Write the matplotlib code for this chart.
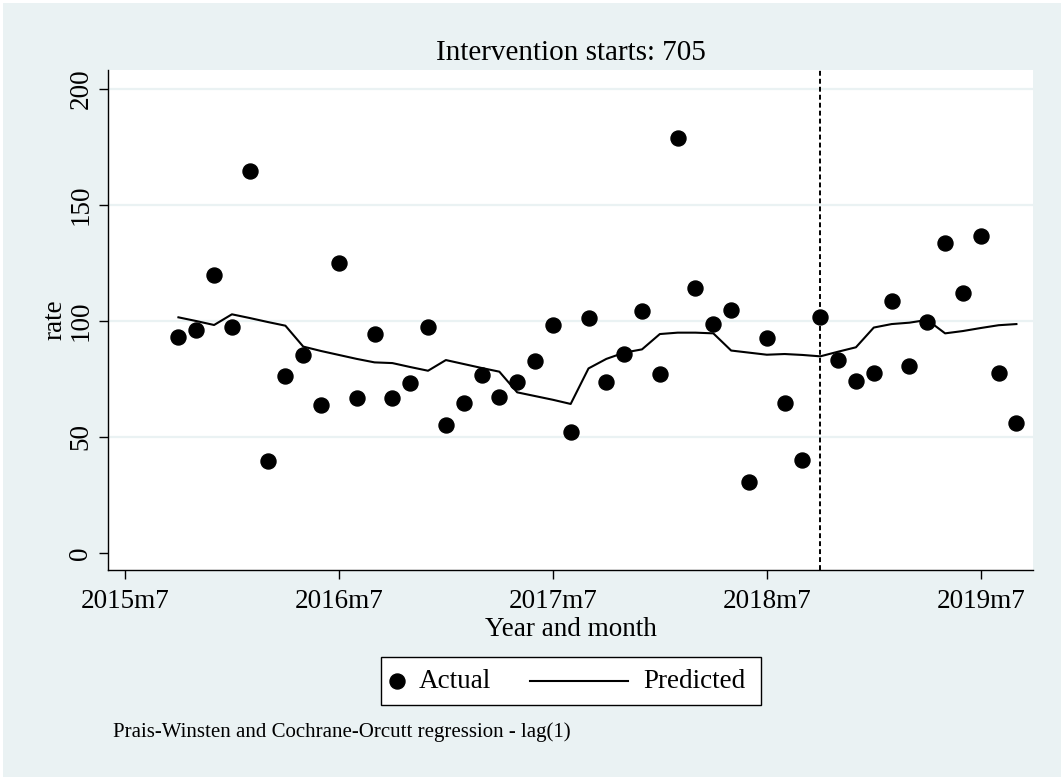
import matplotlib
matplotlib.use("Agg")
import matplotlib.pyplot as plt
from matplotlib.patches import Rectangle
from matplotlib.lines import Line2D

# ---- data ----
months = list(range(669, 717))  # Stata monthly dates (2015m10 .. 2019m9)
actual = [92.9, 96.1, 119.9, 97.4, 164.3, 39.6, 76.1, 85.3, 63.9, 124.8,
          66.9, 94.3, 66.9, 73.1, 97.4, 55.1, 64.5, 76.7, 67.3, 73.5,
          82.7, 98.1, 52.0, 101.1, 73.5, 85.9, 104.2, 77.1, 178.8, 114.0,
          98.6, 104.8, 30.7, 92.6, 64.8, 40.1, 101.8, 83.1, 74.1, 77.7,
          108.7, 80.7, 99.4, 133.4, 111.9, 136.5, 77.7, 55.9]
predicted = [101.5, 99.9, 98.2, 102.8, 101.2, 99.5, 97.9, 88.9, 87.0, 85.3,
             83.6, 82.1, 81.8, 80.1, 78.5, 83.1, 81.4, 79.7, 78.1, 69.2,
             67.6, 66.0, 64.2, 79.5, 83.6, 86.3, 87.7, 94.3, 94.9, 94.9,
             94.6, 87.2, 86.3, 85.4, 85.7, 85.3, 84.7, 86.7, 88.6, 97.1,
             98.6, 99.2, 100.4, 94.6, 95.6, 96.9, 98.1, 98.6]
intervention = 705
xtick_pos = [666, 678, 690, 702, 714]
xtick_labels = ["2015m7", "2016m7", "2017m7", "2018m7", "2019m7"]
ytick_pos = [0, 50, 100, 150, 200]

# ---- style ----
plt.rcParams['font.family'] = ['Liberation Serif', 'DejaVu Serif']
BG = '#EAF2F3'
W, H = 1064, 780
FS = 19.5

fig = plt.figure(figsize=(W / 100, H / 100), dpi=100, facecolor='white')
fig.patches.append(Rectangle((3 / W, 3 / H), (W - 6) / W, (H - 6) / H,
                             transform=fig.transFigure, facecolor=BG,
                             edgecolor='none', zorder=-10))

ax = fig.add_axes([108 / W, (H - 570) / H, (1033 - 108) / W, (570 - 70) / H])
ax.set_facecolor('white')
for s in ['top', 'right']:
    ax.spines[s].set_visible(False)
for s in ['left', 'bottom']:
    ax.spines[s].set_color('black')
    ax.spines[s].set_linewidth(1.0)

ax.set_xlim(665.05, 716.93)
ax.set_ylim(-7.3, 208.0)

for v in [50, 100, 150, 200]:
    ax.axhline(v, color=BG, lw=1.6, zorder=0.5)

ax.plot(months, actual, 'o', color='black', markersize=10.8, zorder=3,
        linestyle='none')
ax.plot(months, predicted, '-', color='black', lw=1.5, zorder=4)
ax.axvline(intervention, color='black', lw=1.4, linestyle=(0, (2.5, 1.6)),
           zorder=5)

ax.set_xticks(xtick_pos)
ax.set_xticklabels(xtick_labels, fontsize=FS)
ax.set_yticks(ytick_pos)
ax.set_yticklabels([str(v) for v in ytick_pos], fontsize=FS, rotation=90,
                   va='center')
ax.tick_params(axis='both', direction='out', length=6.5, width=1.0,
               color='black')
ax.tick_params(axis='x', pad=7)
ax.tick_params(axis='y', pad=4)
ax.set_xlabel("Year and month", fontsize=FS, labelpad=2)
ax.set_ylabel("rate", fontsize=FS, labelpad=0.5)
ax.set_title("Intervention starts: 705", fontsize=21, pad=7)

# ---- legend (Stata style) ----
def fx(px):
    return px / W

def fy(py):
    return 1 - py / H

fig.patches.append(Rectangle((fx(381), fy(705)), fx(761) - fx(381),
                             fy(657) - fy(705), transform=fig.transFigure,
                             facecolor='white', edgecolor='black', lw=1.0,
                             zorder=2))
ly = 681
fig.lines.append(Line2D([fx(397)], [fy(ly)], marker='o', markersize=10.8,
                        color='black', linestyle='none',
                        transform=fig.transFigure, zorder=3))
fig.text(fx(419), fy(ly + 1), "Actual", fontsize=FS, va='center', ha='left')
fig.lines.append(Line2D([fx(530), fx(628)], [fy(ly), fy(ly)], color='black',
                        lw=1.5, transform=fig.transFigure, zorder=3))
fig.text(fx(643), fy(ly + 1), "Predicted", fontsize=FS, va='center', ha='left')

fig.text(fx(113), fy(737), "Prais-Winsten and Cochrane-Orcutt regression - lag(1)",
         fontsize=15, va='baseline', ha='left')

fig.savefig("out.png", dpi=100, facecolor='white')
